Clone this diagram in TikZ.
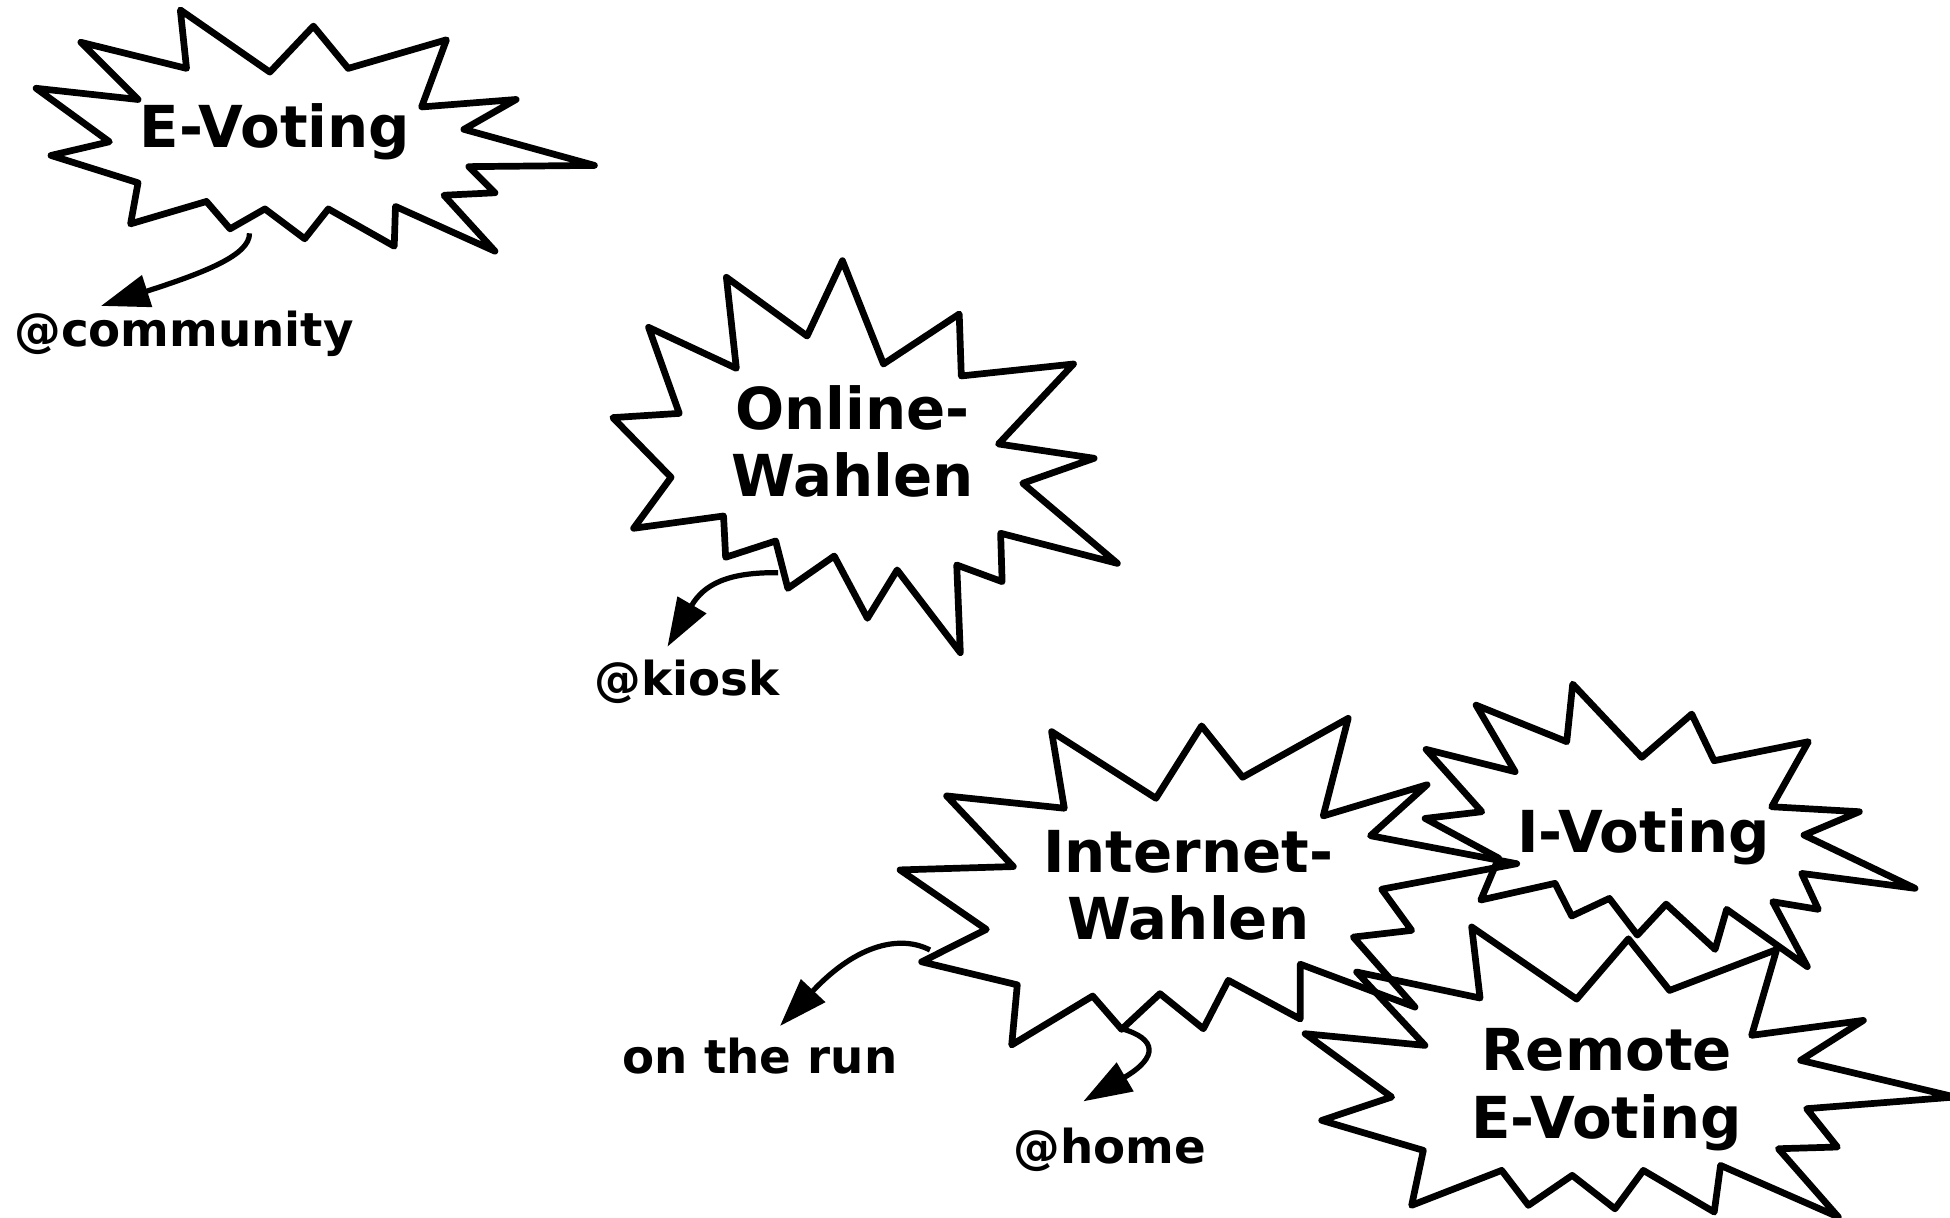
\documentclass[tikz,border=0pt]{standalone}
\usepackage{fontspec}
\setmainfont{DejaVu Sans}
\usepackage{tikz}
\usetikzlibrary{
  arrows.meta,
  positioning
}
\tikzset{>={Triangle[length=39pt,width=26pt]}}
\tikzset{burst/.style={line width=5.4pt, line join=round, line cap=round}}
\tikzset{bursttext/.style={anchor=base, align=center, inner sep=0pt,
    font=\fontsize{46.5}{54.5}\selectfont\bfseries}}
\tikzset{placetext/.style={anchor=base, inner sep=0pt,
    font=\fontsize{37.6}{44}\selectfont\bfseries}}
\tikzset{wherearrow/.style={->, line width=4.2pt}}

\begin{document}
\begin{tikzpicture}[x=1pt, y=-1pt]
  \useasboundingbox (0,0) rectangle (1568,979);

  % E-Voting
  \draw[burst] (145,8) -- (150,55) -- (65,34) -- (111,80) -- (29,71) -- (88,114)
    -- (41,125) -- (111,147) -- (105,180) -- (166,162) -- (185,184) -- (213,168)
    -- (245,192) -- (264,168) -- (317,198) -- (318,166) -- (398,202) -- (357,157)
    -- (398,155) -- (377,134) -- (478,133) -- (373,104) -- (415,80) -- (339,86)
    -- (359,32) -- (280,55) -- (252,21) -- (217,58) -- cycle;
  \node[bursttext] (evoting) at (221,119) {E-Voting};

  % Online-Wahlen
  \draw[burst] (677.4,209.6) -- (710.4,292.7) -- (771.3,252.5) -- (773,302.3)
    -- (863.2,292.7) -- (802.9,357) -- (879.8,368.5) -- (822.4,388.6)
    -- (898.5,453) -- (804.6,428.8) -- (805.8,467.7) -- (769.3,454.3)
    -- (772.2,524.8) -- (721.4,458.3) -- (697.5,497.2) -- (670.8,447.1)
    -- (633.5,473.1) -- (623.7,435) -- (583.5,448.1) -- (581.8,414.9)
    -- (509.5,424.8) -- (539.6,383.8) -- (492.8,335.8) -- (546.2,332.4)
    -- (521.5,263.2) -- (592.1,296.2) -- (584.1,223) -- (649,270.2) -- cycle;
  \node[bursttext] (online) at (685.5,399.5) {Online-\\Wahlen};

  % Internet-Wahlen
  \draw[burst] (845.6,588.3) -- (929.5,641.9) -- (966.2,583.7) -- (999.2,625)
    -- (1084.1,577.6) -- (1064,656.1) -- (1147.5,631) -- (1102,672)
    -- (1219.6,694.5) -- (1111,715) -- (1135.1,748.1) -- (1088.2,753.5)
    -- (1137.8,809.8) -- (1045.5,775.3) -- (1045.5,819.4) -- (987.7,788.3)
    -- (967.6,827.2) -- (932.7,799) -- (901.9,827.7) -- (878.6,800.9)
    -- (813.5,840.2) -- (818,791.9) -- (741.1,773.4) -- (793.1,747.3)
    -- (723.7,699.5) -- (814.8,696.8) -- (761.2,640) -- (855.8,649.9) -- cycle;
  \node[bursttext] (internet) at (955.4,755.8) {Internet-\\Wahlen};

  % I-Voting
  \draw[burst] (1264.6,550.1) -- (1320.1,609) -- (1360.3,574.2) -- (1378.3,611.7)
    -- (1454.1,596.4) -- (1424.6,648.7) -- (1495.1,652.7) -- (1450.6,671.5)
    -- (1539.9,714.3) -- (1448.7,702.3) -- (1462.1,731.2) -- (1425.4,725.1)
    -- (1453.3,777.3) -- (1388.4,731.2) -- (1379.1,763.4) -- (1339.7,727)
    -- (1316.6,751.9) -- (1294.1,722.4) -- (1263.8,736.6) -- (1250.4,710.3)
    -- (1190.7,723.7) -- (1205,690) -- (1145.9,658.1) -- (1191.5,652.7)
    -- (1146.7,602.6) -- (1218.3,620.5) -- (1186.9,567) -- (1259.8,596.4) -- cycle;
  \node[bursttext] (ivoting) at (1321.4,685.7) {I-Voting};

  % Remote E-Voting
  \draw[burst] (1183.4,745.4) -- (1267.8,803.4) -- (1309.4,754.9) -- (1342.5,796.4)
    -- (1428.6,763.5) -- (1408.5,832.5) -- (1498.3,820.5) -- (1447.9,852.6)
    -- (1572,882.1) -- (1452.7,891.5) -- (1477.4,922.3) -- (1430,923.7)
    -- (1478.2,978.6) -- (1383.5,937.1) -- (1378.4,974.6) -- (1321.4,941.1)
    -- (1298.6,972) -- (1264.2,945.1) -- (1229,969.2) -- (1207.5,941.1)
    -- (1135.1,969.2) -- (1144.5,925) -- (1062.8,900.9) -- (1119,882.1)
    -- (1049.4,831.2) -- (1145.8,840.6) -- (1090.9,781.6) -- (1190.1,802.5) -- cycle;
  \node[bursttext] (remote) at (1291.9,915.4) {Remote\\E-Voting};

  % where it happens
  \node[placetext] (community) at (148,279) {@community};
  \node[placetext] (kiosk) at (552.5,559) {@kiosk};
  \node[placetext] (run) at (611,863) {on the run};
  \node[placetext] (home) at (892.5,935.7) {@home};

  \coordinate (evoting-tail) at (200.6,187.6);
  \coordinate (community-tip) at (81.2,246);
  \coordinate (online-tail) at (625.7,460.5);
  \coordinate (kiosk-tip) at (536.7,520);
  \coordinate (internet-tail) at (747.8,763.9);
  \coordinate (run-tip) at (627.2,825);
  \coordinate (home-tail) at (901.9,827.2);
  \coordinate (home-tip) at (871.1,885.6);

  \draw[wherearrow] (evoting-tail) .. controls +(0.4,17.4) and +(83.8,-27) .. (community-tip);
  \draw[wherearrow] (online-tail) .. controls +(-40.7,-0.5) and +(29.3,-50) .. (kiosk-tip);
  \draw[wherearrow] (internet-tail) .. controls +(-22.8,-11.9) and +(62.8,-67) .. (run-tip);
  \draw[wherearrow] (home-tail) .. controls +(28.1,7.8) and +(60.9,-35.6) .. (home-tip);
\end{tikzpicture}
\end{document}
